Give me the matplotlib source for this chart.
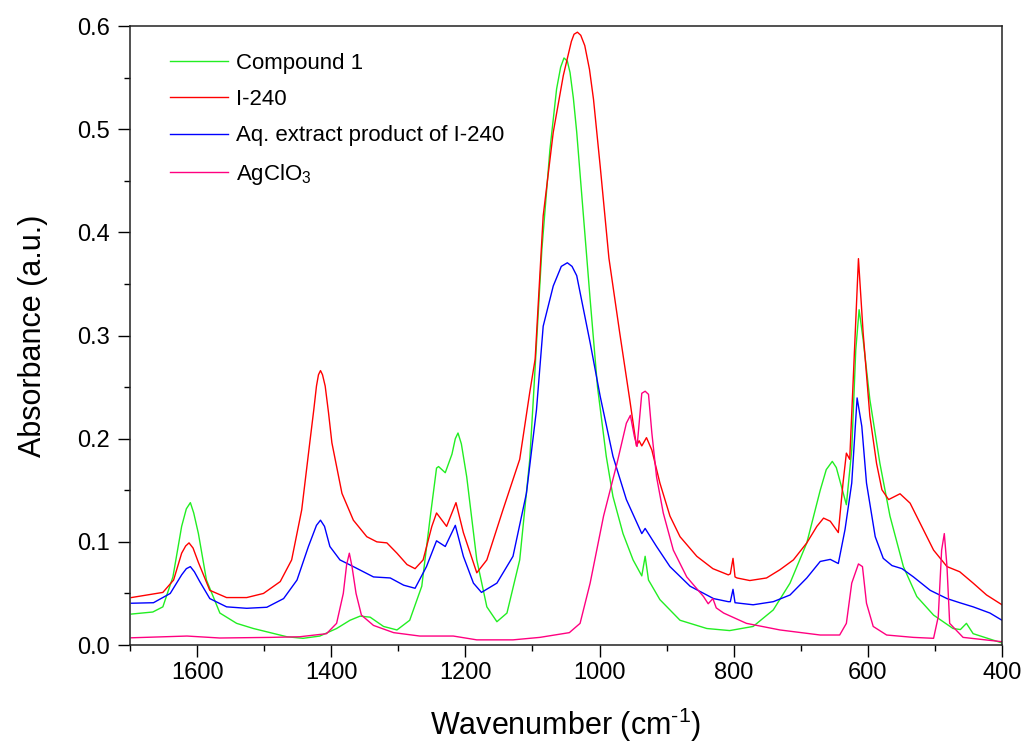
import matplotlib.pyplot as plt
from matplotlib.ticker import MultipleLocator

plt.rcParams['font.family'] = ['Liberation Sans', 'DejaVu Sans']
plt.rcParams['mathtext.fontset'] = 'custom'
plt.rcParams['mathtext.rm'] = 'Liberation Sans'
plt.rcParams['mathtext.it'] = 'Liberation Sans:italic'

# ── Compound 1 (green) ─────────────────────────────────────────────────────
c1_x = [1698, 1666, 1651, 1636, 1623, 1616, 1610, 1605, 1598, 1586, 1566, 1541, 1516, 1491,
        1466, 1442, 1417, 1392, 1372, 1357, 1342, 1322, 1302, 1283, 1265, 1253,
        1243, 1240, 1230, 1220, 1215, 1211, 1206, 1198, 1183, 1168, 1153, 1138, 1119, 1104, 1099, 1086,
        1074, 1064, 1058, 1053, 1048, 1044, 1039, 1034, 1024, 1014, 1003, 990, 980, 965, 950, 937,
        932, 927, 910, 880, 840, 806, 771, 741, 716, 691, 671, 662, 653, 647, 642, 632,
        624, 618, 613, 607, 597, 582, 567, 547, 527, 502, 473, 462, 453, 443, 400]
c1_y = [0.030, 0.032, 0.037, 0.066, 0.115, 0.132, 0.138, 0.128, 0.108, 0.063, 0.031, 0.021, 0.016, 0.012,
        0.008, 0.0065, 0.0087, 0.016, 0.024, 0.028, 0.027, 0.018, 0.0146, 0.024, 0.057, 0.121,
        0.1715, 0.173, 0.167, 0.185, 0.200, 0.2055, 0.195, 0.163, 0.0825, 0.037, 0.0226, 0.031, 0.0825, 0.18, 0.235, 0.383,
        0.48, 0.539, 0.560, 0.569, 0.566, 0.555, 0.530, 0.497, 0.416, 0.335, 0.25, 0.183, 0.144, 0.108, 0.0825, 0.067,
        0.086, 0.063, 0.044, 0.024, 0.016, 0.014, 0.018, 0.034, 0.06, 0.099, 0.15, 0.170, 0.178, 0.172, 0.16, 0.136,
        0.189, 0.286, 0.325, 0.296, 0.238, 0.176, 0.125, 0.076, 0.047, 0.029, 0.016, 0.015, 0.021, 0.011, 0.002]

# ── I-240 (red) ────────────────────────────────────────────────────────────
i240_x = [1698, 1651, 1635, 1623, 1617, 1612, 1606, 1598, 1581, 1556, 1526, 1501, 1476, 1459,
          1444, 1432, 1426, 1422, 1419, 1416, 1413, 1409, 1404, 1399, 1384, 1367, 1347, 1332, 1317, 1302,
          1287, 1275, 1263, 1250, 1243, 1228, 1214, 1203, 1183, 1168, 1144, 1119,
          1104, 1096, 1084, 1069, 1054, 1042, 1038, 1033, 1028, 1022, 1015, 1009, 999, 986, 970, 955,
          945, 941, 937, 930, 922, 910, 895, 880, 855, 831, 808, 805, 801, 798, 795,
          776, 751, 731, 711, 691, 676, 666, 656, 644, 637, 632, 627, 622, 614, 607,
          597, 587, 579, 569, 552, 537, 522, 502, 482, 463, 443, 423, 400]
i240_y = [0.046, 0.051, 0.063, 0.089, 0.096, 0.099, 0.094, 0.080, 0.053, 0.046, 0.046, 0.050, 0.0615, 0.0825,
          0.131, 0.196, 0.228, 0.251, 0.262, 0.266, 0.262, 0.251, 0.225, 0.196, 0.147, 0.121, 0.105, 0.100, 0.099, 0.089,
          0.078, 0.074, 0.0825, 0.115, 0.128, 0.115, 0.138, 0.109, 0.070, 0.0825, 0.131, 0.18,
          0.245, 0.277, 0.416, 0.497, 0.552, 0.585, 0.592, 0.594, 0.591, 0.581, 0.558, 0.529, 0.464, 0.375, 0.303, 0.238,
          0.193, 0.198, 0.193, 0.201, 0.189, 0.157, 0.125, 0.105, 0.086, 0.074, 0.068, 0.069, 0.084, 0.066, 0.065,
          0.0625, 0.065, 0.073, 0.0825, 0.099, 0.115, 0.123, 0.120, 0.109, 0.157, 0.186, 0.18, 0.254, 0.3745, 0.3025,
          0.222, 0.176, 0.1505, 0.141, 0.1466, 0.1375, 0.118, 0.092, 0.076, 0.071, 0.06, 0.0485, 0.039]

# ── Aq. extract product of I-240 (blue) ───────────────────────────────────
aq_x = [1698, 1665, 1640, 1623, 1616, 1610, 1604, 1596, 1581, 1556, 1526, 1496, 1471, 1451,
        1434, 1422, 1416, 1410, 1402, 1387, 1367, 1337, 1312, 1292, 1275, 1258, 1243, 1230,
        1215, 1203, 1188, 1176, 1153, 1129, 1109, 1094, 1084, 1069, 1057, 1048, 1041,
        1034, 1022, 1014, 999, 980, 960, 937, 932, 915, 895, 865, 830, 808, 805,
        801, 798, 771, 741, 716, 691, 671, 656, 644, 634, 624, 616, 609, 602, 589,
        577, 564, 549, 532, 507, 482, 463, 443, 418, 400]
aq_y = [0.0405, 0.041, 0.050, 0.068, 0.074, 0.076, 0.071, 0.0615, 0.045, 0.037, 0.0356, 0.0366, 0.045, 0.063,
        0.0955, 0.116, 0.121, 0.115, 0.0955, 0.0825, 0.076, 0.066, 0.065, 0.058, 0.055, 0.076, 0.101, 0.0955,
        0.116, 0.086, 0.06, 0.051, 0.06, 0.086, 0.147, 0.228, 0.309, 0.348, 0.367, 0.3705, 0.367,
        0.358, 0.319, 0.293, 0.241, 0.183, 0.141, 0.108, 0.113, 0.0955, 0.076, 0.057, 0.045, 0.042, 0.042,
        0.054, 0.041, 0.039, 0.042, 0.0485, 0.065, 0.081, 0.083, 0.079, 0.112, 0.157, 0.2395, 0.212, 0.157, 0.105,
        0.084, 0.077, 0.074, 0.066, 0.053, 0.045, 0.041, 0.037, 0.031, 0.024]

# ── AgClO3 (pink) ──────────────────────────────────────────────────────────
ag_x = [1698, 1615, 1566, 1491, 1447, 1407, 1392, 1382, 1377, 1373, 1369, 1363,
        1355, 1337, 1307, 1268, 1218, 1183, 1129, 1089, 1045, 1029, 1014, 994,
        974, 960, 954, 948, 944, 937, 932, 927, 922, 915, 905, 890, 870, 845,
        838, 831, 826, 815, 781, 731, 671, 642, 632, 624, 614, 608, 602, 592,
        572, 532, 502, 495, 490, 486, 482, 478, 458, 400]
ag_y = [0.007, 0.0087, 0.0068, 0.0074, 0.008, 0.011, 0.021, 0.050, 0.078, 0.089, 0.076, 0.050,
        0.029, 0.019, 0.012, 0.0087, 0.0087, 0.005, 0.005, 0.0074, 0.012, 0.021, 0.06, 0.125,
        0.176, 0.215, 0.2226, 0.202, 0.1925, 0.244, 0.246, 0.243, 0.2055, 0.163, 0.128, 0.092, 0.066, 0.047,
        0.040, 0.045, 0.036, 0.031, 0.021, 0.0146, 0.0097, 0.0097, 0.021, 0.06, 0.0786, 0.076, 0.0405, 0.018,
        0.0097, 0.0074, 0.0065, 0.0275, 0.092, 0.108, 0.076, 0.021, 0.0074, 0.0032]

fig = plt.figure(figsize=(10.26, 7.45), dpi=100)
ax = fig.add_axes([0.1267, 0.1342, 0.8499, 0.8309])

ax.plot(c1_x, c1_y, color='#22ee22', linewidth=1.0, label='Compound 1')
ax.plot(i240_x, i240_y, color='#ff0000', linewidth=1.0, label='I-240')
ax.plot(aq_x, aq_y, color='#0000ff', linewidth=1.0, label='Aq. extract product of I-240')
ax.plot(ag_x, ag_y, color='#ff0080', linewidth=1.0, label=r'AgClO$_\mathrm{3}$')

ax.set_xlim(1700, 400)
ax.set_ylim(0, 0.6)
ax.xaxis.set_major_locator(MultipleLocator(200))
ax.xaxis.set_minor_locator(MultipleLocator(100))
ax.yaxis.set_major_locator(MultipleLocator(0.1))
ax.yaxis.set_minor_locator(MultipleLocator(0.05))
ax.yaxis.set_major_formatter('{x:.1f}')

ax.tick_params(which='major', direction='out', length=8.5, width=1.0, labelsize=17, pad=4)
ax.tick_params(which='minor', direction='out', length=4.3, width=1.0)
ax.tick_params(axis='y', which='major', pad=6)
for s in ax.spines.values():
    s.set_linewidth(1.1)
    s.set_color('#222222')

ax.set_xlabel(r'Wavenumber (cm$^\text{-1}$)', fontsize=22, labelpad=15)
ax.set_ylabel('Absorbance (a.u.)', fontsize=22, labelpad=21)

ax.legend(loc='upper left', bbox_to_anchor=(0.046, 0.957), frameon=False, fontsize=16,
          borderpad=0, borderaxespad=0, handlelength=2.6, handletextpad=0.35, labelspacing=0.69)

plt.savefig('out.png', dpi=100)
